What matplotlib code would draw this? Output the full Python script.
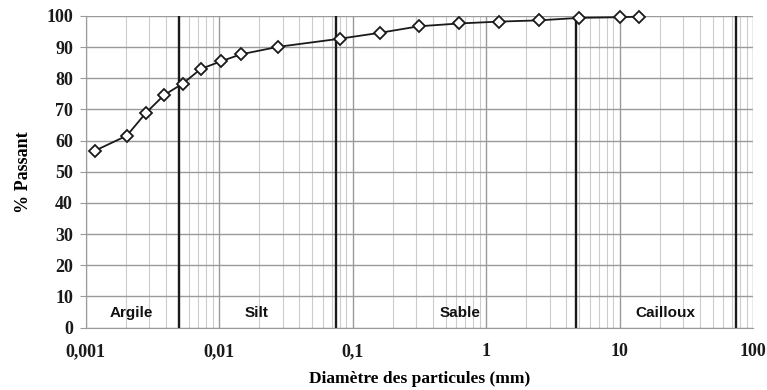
import matplotlib.pyplot as plt
from matplotlib.ticker import FixedLocator, LogLocator, NullFormatter

# granulometric curve: sedimentometry + sieving
diametre = [0.00118, 0.00204, 0.00282, 0.00387, 0.00535, 0.0073, 0.0104, 0.0146, 0.0277,
            0.08, 0.16, 0.315, 0.63, 1.25, 2.5, 5, 10, 14]
passant = [56.8, 61.6, 68.8, 74.6, 78.3, 83.0, 85.5, 87.7, 90.1,
           92.7, 94.6, 96.7, 97.6, 98.2, 98.6, 99.4, 99.6, 99.8]

limites = [0.005, 0.075, 4.75, 75]
classes = ['Argile', 'Silt', 'Sable', 'Cailloux']
pos_classes = [0.00222, 0.0191, 0.638, 21.9]

xticks = [0.001, 0.01, 0.1, 1, 10, 100]
xtick_labels = ['0,001', '0,01', '0,1', '1', '10', '100']

serif = 'Liberation Serif'
sans = 'Liberation Sans'

fig = plt.figure(figsize=(7.67, 3.9), dpi=100)
ax = fig.add_axes([0.1115, 0.160, 0.8703, 0.799])

ax.set_xscale('log')
ax.set_xlim(0.001, 100)
ax.set_ylim(0, 100)

ax.xaxis.set_major_locator(FixedLocator(xticks))
ax.xaxis.set_minor_locator(LogLocator(base=10, subs=range(2, 10)))
ax.xaxis.set_minor_formatter(NullFormatter())
ax.set_xticklabels(xtick_labels, fontfamily=serif, fontweight='bold', fontsize=13,
                   color='#1a1a1a')
ax.set_yticks(range(0, 101, 10))
ax.set_yticklabels([str(v) for v in range(0, 101, 10)], fontfamily=serif,
                   fontweight='bold', fontsize=13, color='#1a1a1a')

ax.grid(which='major', color='#9a9a9a', linewidth=1.0)
ax.grid(which='minor', axis='x', color='#cccccc', linewidth=0.8)
ax.tick_params(axis='x', which='both', length=0, pad=11)
ax.tick_params(axis='y', length=4, color='#9a9a9a', pad=5)
for s in ax.spines.values():
    s.set_color('#9a9a9a')
ax.spines['top'].set_visible(False)
ax.spines['right'].set_visible(False)

for x in limites:
    ax.axvline(x, color='#1a1a1a', linewidth=1.7)

for nom, x in zip(classes, pos_classes):
    ax.text(x, 4.75, nom, ha='center', va='center', fontfamily=sans,
            fontweight='bold', fontsize=11, color='#111111')

ax.plot(diametre, passant, color='#1a1a1a', linewidth=1.3, marker='D',
        markersize=6.5, markerfacecolor='white', markeredgecolor='#1a1a1a',
        markeredgewidth=1.3, zorder=5, clip_on=False)

ax.set_xlabel('Diamètre des particules (mm)', fontfamily=serif,
              fontweight='bold', fontsize=12.5, labelpad=8)
ax.set_ylabel('% Passant', fontfamily=serif, fontweight='bold', fontsize=13,
              labelpad=10)

fig.savefig('out.png', dpi=100)
